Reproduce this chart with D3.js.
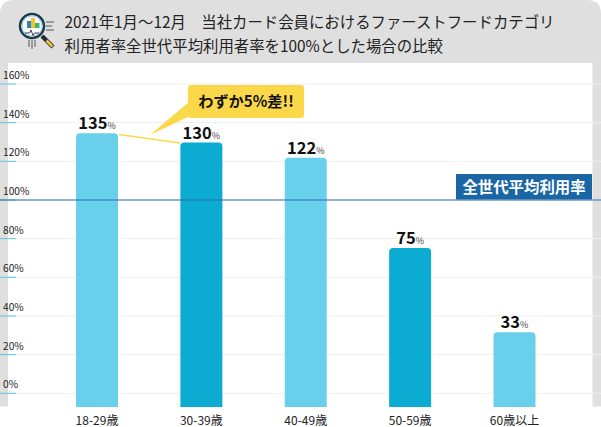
<!DOCTYPE html>
<html><head><meta charset="utf-8">
<script src="https://cdn.jsdelivr.net/npm/d3@7"></script>
<style>html,body{margin:0;padding:0;background:#fff}svg{display:block}text{font-family:"Noto Sans CJK JP","Noto Sans",sans-serif}</style>
</head><body><svg id="c" width="601" height="427"></svg>
<script>
const categories=["18-29歳","30-39歳","40-49歳","50-59歳","60歳以上"];
const labels=[135,130,122,75,33];
const barHeights=[134.5,129.7,121.8,75.2,31.6];
const barColors=["#68d0ea","#0babd2","#68d0ea","#0babd2","#68d0ea"];
const ticks=[0,20,40,60,80,100,120,140,160];
const titleLines=["2021年1月～12月　当社カード会員におけるファーストフードカテゴリ","利用者率全世代平均利用者率を100%とした場合の比較"];
const refLabel="全世代平均利用率";
const callout="わずか5%差!!";

const svg=d3.select("#c");
const y=d3.scaleLinear().domain([0,160]).range([393.3,84]);
const x=d3.scaleBand().domain(categories).range([76,535.5]).paddingInner(0.5977).paddingOuter(0);
const base=407;

// frame
svg.append("path").attr("d","M0,63V14Q0,0 14,0H587Q601,0 601,14V63Z").attr("fill","#dfdfdf");
svg.append("rect").attr("x",0).attr("y",63).attr("width",8).attr("height",343.5).attr("fill","#dfdfdf");
svg.append("rect").attr("x",592.5).attr("y",63).attr("width",8.5).attr("height",343.5).attr("fill","#dfdfdf");

// grid
svg.append("g").selectAll("line").data(ticks).join("line")
 .attr("x1",8).attr("x2",601).attr("y1",d=>y(d)).attr("y2",d=>y(d)).attr("stroke","#eeeeee").attr("stroke-width",1);
svg.append("g").selectAll("line").data(ticks).join("line")
 .attr("x1",0).attr("x2",16).attr("y1",d=>y(d)).attr("y2",d=>y(d)).attr("stroke","#5cc3e2").attr("stroke-width",1);
svg.append("g").selectAll("text").data(ticks).join("text")
 .attr("x",3).attr("y",d=>y(d)-5).attr("font-size",10.2).attr("fill","#222").text(d=>d+"%");

// bars
const r=4;
svg.append("g").selectAll("path").data(categories).join("path")
 .attr("d",(c,i)=>{const x0=x(c),w=x.bandwidth(),t=y(barHeights[i]);
   return `M${x0},${base}V${t+r}Q${x0},${t} ${x0+r},${t}H${x0+w-r}Q${x0+w},${t} ${x0+w},${t+r}V${base}Z`;})
 .attr("fill",(c,i)=>barColors[i]);

// reference line
svg.append("line").attr("x1",0).attr("x2",601).attr("y1",y(100)).attr("y2",y(100)).attr("stroke","#2a6ea8").attr("stroke-width",1.2);
svg.append("rect").attr("x",456).attr("y",174).attr("width",136).attr("height",25.5).attr("fill","#1a66a5");
svg.append("text").attr("x",524).attr("y",193).attr("text-anchor","middle").attr("font-size",15.4).attr("font-weight",700).attr("fill","#fff").text(refLabel);

// value labels
const vl=svg.append("g").selectAll("text").data(categories).join("text")
 .attr("x",c=>x(c)+x.bandwidth()/2).attr("y",(c,i)=>y(barHeights[i])-4).attr("text-anchor","middle");
vl.append("tspan").attr("font-size",16.5).attr("font-weight",700).attr("fill","#111").text((c,i)=>labels[i]);
vl.append("tspan").attr("font-size",9).attr("fill","#444").text("%");

// category labels
svg.append("g").selectAll("text").data(categories).join("text")
 .attr("x",c=>x(c)+x.bandwidth()/2).attr("y",425).attr("text-anchor","middle").attr("font-size",12).attr("fill","#222").text(c=>c);

// callout
svg.append("line").attr("x1",119).attr("y1",134.5).attr("x2",180).attr("y2",143).attr("stroke","#fbd84a").attr("stroke-width",1.4);
svg.append("path").attr("d","M150,135L190,101L190,116Z").attr("fill","#fbd84a");
svg.append("rect").attr("x",188).attr("y",85).attr("width",116).attr("height",33).attr("rx",3).attr("fill","#fbd84a");
svg.append("text").attr("x",246).attr("y",107).attr("text-anchor","middle").attr("font-size",15.2).attr("font-weight",700).attr("fill","#111").text(callout);

// title
svg.append("g").selectAll("text").data(titleLines).join("text")
 .attr("x",64.5).attr("y",(d,i)=>i?52:27.5).attr("font-size",15.4).attr("fill","#222").text(d=>d);

// icon
const ic=svg.append("g");
ic.append("path").attr("d","M46,22H54M46,26H52M46,30H54M29,40V47M32,40V49M35,40V47").attr("stroke","#555").attr("stroke-width",1).attr("fill","none");
ic.append("line").attr("x1",42).attr("y1",36).attr("x2",53).attr("y2",47).attr("stroke","#1d2a3a").attr("stroke-width",4.2);
ic.append("line").attr("x1",46.5).attr("y1",40.5).attr("x2",52.5).attr("y2",46.5).attr("stroke","#f4c430").attr("stroke-width",2.6);
ic.append("circle").attr("cx",32).attr("cy",26).attr("r",12).attr("fill","#fff").attr("stroke","#1d3a4f").attr("stroke-width",2.5);
ic.append("circle").attr("cx",32).attr("cy",26).attr("r",10).attr("fill","none").attr("stroke","#8fd0e6").attr("stroke-width",1);
ic.append("rect").attr("x",27).attr("y",21).attr("width",4).attr("height",7).attr("fill","#2b82c9");
ic.append("rect").attr("x",31).attr("y",18).attr("width",4).attr("height",10).attr("fill","#f4c430");
ic.append("rect").attr("x",35).attr("y",23).attr("width",4.5).attr("height",5).attr("fill","#3fb56b");
ic.append("path").attr("d","M25,33H29.5L31,30L33,35.5L34.5,33H39").attr("fill","none").attr("stroke","#1d2a3a").attr("stroke-width",0.9);
</script></body></html>
